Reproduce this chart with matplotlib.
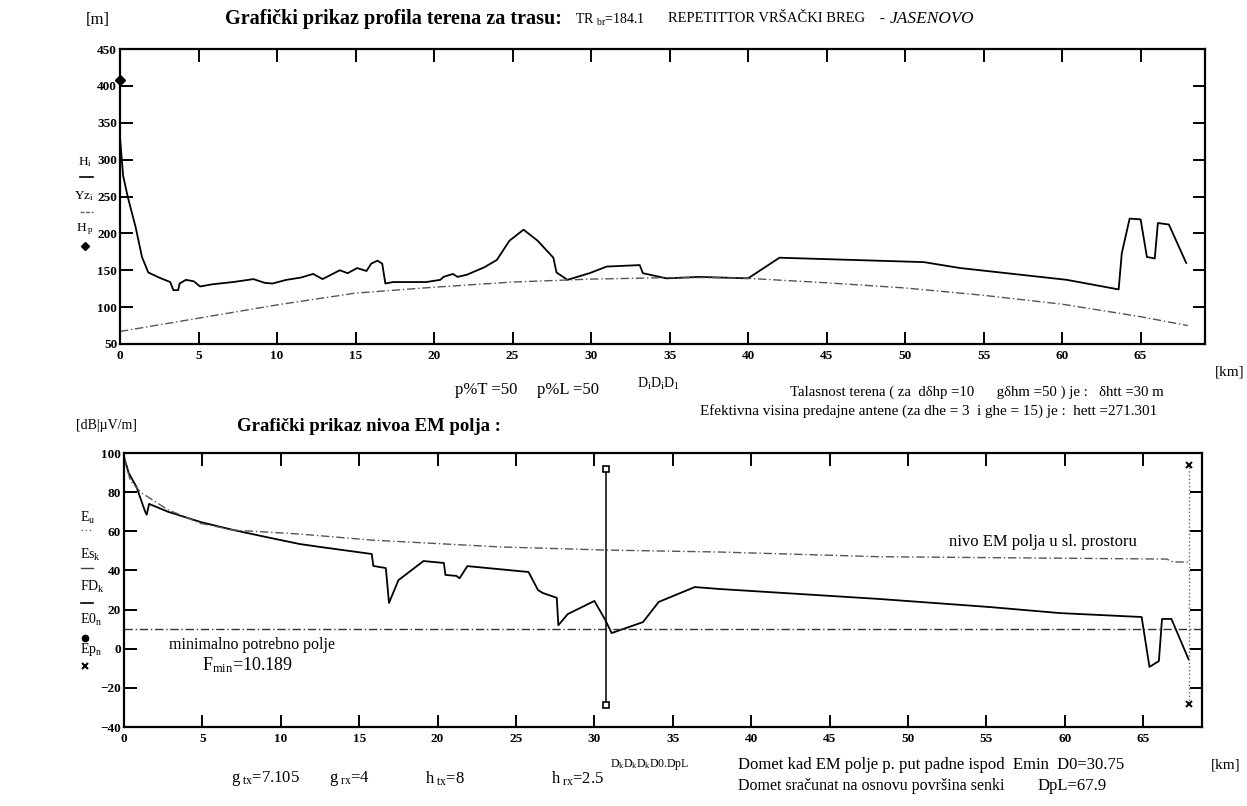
import matplotlib
matplotlib.use("Agg")
import matplotlib.pyplot as plt

plt.rcParams['font.family'] = ['Liberation Serif', 'DejaVu Serif']
plt.rcParams['mathtext.fontset'] = 'custom'
plt.rcParams['mathtext.rm'] = 'Liberation Serif'
plt.rcParams['mathtext.it'] = 'Liberation Serif:italic'
plt.rcParams['mathtext.bf'] = 'Liberation Serif:bold'

# ---------------- data: terrain profile ----------------
profile_km = [0.0, 0.2, 0.5, 1.0, 1.4, 1.8, 2.5, 3.2, 3.4, 3.7, 3.8, 4.2, 4.7, 5.1, 5.9,
              7.2, 8.5, 9.2, 9.7, 10.6, 11.5, 12.3, 12.9, 14.0, 14.5, 15.1, 15.7, 16.0,
              16.4, 16.7, 16.9, 17.4, 19.5, 20.4, 20.6, 21.2, 21.5, 22.1, 23.2, 24.0,
              24.8, 25.7, 26.6, 27.6, 27.8, 28.5, 29.9, 31.0, 33.1, 33.3, 34.8, 36.9,
              40.0, 42.0, 49.7, 51.2, 53.5, 60.3, 63.6, 63.8, 64.3, 65.0, 65.4, 65.9,
              66.1, 66.8, 67.9]
profile_h = [330, 278, 249, 208, 168, 147, 140, 134, 123, 123, 132, 137, 135, 128, 131,
             134, 138, 133, 132, 137, 140, 145, 138, 150, 146, 153, 149, 159,
             163, 159, 132, 134, 134, 137, 141, 145, 141, 144, 154, 164,
             190, 205, 190, 167, 147, 137, 146, 155, 157, 146, 139, 141,
             139, 167, 162, 161, 153, 137, 124, 173, 220, 219, 168, 166,
             214, 212, 160]

earth_km = [0, 5, 10, 15, 20, 25, 30, 35, 38, 40, 45, 50, 55, 60, 65, 68]
earth_h = [67, 85, 103, 119, 127, 134, 138, 140, 140, 139, 133, 126, 116, 104, 87, 75]

hp_km = [0.0]
hp_h = [408]

# ---------------- data: EM field ----------------
field_km = [0.0, 0.3, 0.8, 1.35, 1.45, 1.6, 2.8, 4.9, 7.0, 9.1, 11.2, 12.5, 15.8, 15.9,
            16.7, 16.9, 17.5, 19.1, 20.4, 20.5, 21.2, 21.4, 21.9, 25.8, 26.4, 26.7,
            27.6, 27.7, 28.3, 30.0, 30.7, 31.1, 33.1, 34.1, 36.4, 38.0, 48.2, 55.2,
            59.7, 64.9, 65.4, 66.0, 66.2, 66.8, 67.9]
field_es = [98, 89.8, 82.6, 70, 68.5, 74, 70, 64.7, 60.6, 57, 53.5, 52, 48.4, 42.3,
            41.2, 23.4, 35, 44.8, 43.8, 37.7, 37.2, 36, 42.2, 39.2, 30, 28.5,
            26, 12, 17.7, 24.4, 14.6, 8, 13.6, 23.9, 31.5, 30.5, 25.4, 21.3,
            18.2, 16.2, -9.3, -6.3, 15.2, 15.2, -5.5]

free_km = [0.0, 0.4, 1.05, 2.8, 4.9, 7.0, 11.2, 15.8, 24.0, 30.8, 38.0, 48.2, 66.5, 66.9, 68.0]
free_eu = [98, 86, 80, 71, 64, 60.6, 58.6, 55.5, 52, 50.4, 49.4, 47, 45.8, 44.3, 44.3]

fmin = 10.189
d0 = 30.75
d0_span = [-29, 92]
dpl = 67.9
dpl_span = [-28, 94]

top_xticks = list(range(0, 70, 5))
top_yticks = list(range(50, 451, 50))
bot_xticks = list(range(0, 70, 5))
bot_yticks = list(range(-40, 101, 20))

W, H = 1247, 806
fig = plt.figure(figsize=(W / 100, H / 100), dpi=100)
fig.patch.set_facecolor('white')


def P(x, y):
    return x / W, 1 - y / H


def T(x, y, s, **kw):
    kw.setdefault('fontsize', 11)
    kw.setdefault('va', 'center')
    fig.text(*P(x, y), s, **kw)


def style_axes(ax):
    for sp in ax.spines.values():
        sp.set_linewidth(1.6)
        sp.set_color('black')
    ax.tick_params(axis='both', which='major', direction='in', length=9, width=1.4,
                   top=True, right=True, labelsize=9.5, pad=4)
    for lab in ax.get_xticklabels() + ax.get_yticklabels():
        lab.set_fontweight('bold')


# ---------------- top axes ----------------
ax1 = fig.add_axes([120 / W, 1 - 344 / H, (1205 - 120) / W, (344 - 49) / H])
ax1.plot(profile_km, profile_h, color='black', lw=1.3)
ax1.plot(earth_km, earth_h, color='#555555', lw=1.0, ls=(0, (6, 2, 1, 2)))
ax1.plot(hp_km, hp_h, marker='D', color='black', ms=5, ls='none', clip_on=False)
ax1.set_xlim(0, 69.1)
ax1.set_ylim(50, 450)
ax1.set_xticks(top_xticks)
ax1.set_yticks(top_yticks)
style_axes(ax1)
ax1.tick_params(axis='y', pad=2)

# ---------------- bottom axes ----------------
ax2 = fig.add_axes([124 / W, 1 - 727 / H, (1202 - 124) / W, (727 - 453) / H])
ax2.plot(field_km, field_es, color='black', lw=1.3)
ax2.plot(free_km, free_eu, color='#555555', lw=1.0, ls=(0, (6, 2, 1, 2)))
ax2.axhline(fmin, color='#333333', lw=1.0, ls=(0, (6, 2, 1, 2)))
ax2.plot([d0, d0], d0_span, color='black', lw=1.1, marker='s', ms=4.5,
         markerfacecolor='white', markeredgewidth=1.2)
ax2.plot([dpl, dpl], dpl_span, color='#666666', lw=1.0, ls=':', marker='x', ms=5,
         markeredgecolor='black', markeredgewidth=1.4)
ax2.set_xlim(0, 68.75)
ax2.set_ylim(-40, 100)
ax2.set_xticks(bot_xticks)
ax2.set_yticks(bot_yticks)
style_axes(ax2)
ax2.tick_params(axis='y', pad=2)

# ---------------- texts top ----------------
T(86, 20, '[m]', fontsize=12)
T(225, 19, 'Grafički prikaz profila terena za trasu:', fontsize=14.5, fontweight='bold')
T(575, 20, r'TR $_{\rm br}$=184.1', fontsize=10)
T(668, 19, 'REPETITTOR VRŠAČKI BREG', fontsize=10.5)
T(879, 19, '-', fontsize=10.5)
T(890, 19, 'JASENOVO', fontsize=12.5, style='italic')

# left legend for top
T(78, 162, r'H$_{\rm i}$', fontsize=9.5)
fig.add_artist(plt.Line2D([80 / W, 93 / W], [1 - 177 / H, 1 - 177 / H], color='black', lw=1.2))
T(74, 196, r'Yz$_{\rm i}$', fontsize=9.5)
fig.add_artist(plt.Line2D([80 / W, 93 / W], [1 - 212 / H, 1 - 212 / H], color='#666666', lw=1.0,
                          ls=(0, (3, 1))))
T(76, 229, r'H$_{\rm \ p}$', fontsize=9.5)
fig.add_artist(plt.Line2D([85 / W], [1 - 246 / H], marker='D', color='black', ms=4.5))

T(1215, 372, '[km]', fontsize=11)
T(455, 390, 'p%T =50', fontsize=12)
T(537, 390, 'p%L =50', fontsize=12)
T(658, 384, r'D$_{\rm i}$D$_{\rm i}$D$_{\rm 1}$', fontsize=10, ha='center')
T(790, 392, 'Talasnost terena ( za  dδhp =10      gδhm =50 ) je :   δhtt =30 m', fontsize=10.6)
T(700, 411, 'Efektivna visina predajne antene (za dhe = 3  i ghe = 15) je :  hett =271.301',
  fontsize=10.9)

# ---------------- texts bottom ----------------
T(76, 426, '[dB|µV/m]', fontsize=10)
T(237, 427, 'Grafički prikaz nivoa EM polja :', fontsize=13.5, fontweight='bold')

T(80, 518, r'E$_{\rm u}$', fontsize=10)
fig.add_artist(plt.Line2D([81 / W, 93 / W], [1 - 530 / H, 1 - 530 / H], color='#666666', lw=1.0,
                          ls=(0, (1, 2))))
T(80, 555, r'Es$_{\rm k}$', fontsize=10)
fig.add_artist(plt.Line2D([81 / W, 93 / W], [1 - 568 / H, 1 - 568 / H], color='#444444', lw=1.0))
T(80, 587, r'FD$_{\rm k}$', fontsize=10)
fig.add_artist(plt.Line2D([81 / W, 93 / W], [1 - 603 / H, 1 - 603 / H], color='black', lw=1.2))
T(80, 620, r'E0$_{\rm n}$', fontsize=10)
fig.add_artist(plt.Line2D([85 / W], [1 - 638 / H], marker='o', color='black', ms=4.5))
T(80, 650, r'Ep$_{\rm n}$', fontsize=10)
fig.add_artist(plt.Line2D([85 / W], [1 - 666 / H], marker='x', color='black', ms=5, mew=1.5))

T(1043, 542, 'nivo EM polja u sl. prostoru', fontsize=12, ha='center')
T(252, 645, 'minimalno potrebno polje', fontsize=11.5, ha='center')
T(202, 665, r'F$_{\rm min}$=10.189', fontsize=13)

T(231, 779, r'g$_{\rm \ tx}$=7.105', fontsize=12)
T(329, 779, r'g$_{\rm \ rx}$=4', fontsize=12)
T(425, 779, r'h$_{\rm \ tx}$=8', fontsize=12)
T(551, 779, r'h$_{\rm \ rx}$=2.5', fontsize=12)
T(650, 764, r'D$_{\rm k}$D$_{\rm k}$D$_{\rm k}$D0.DpL', fontsize=8.5, ha='center')
T(738, 765, 'Domet kad EM polje p. put padne ispod  Emin  D0=30.75', fontsize=12)
T(738, 786, 'Domet sračunat na osnovu površina senki', fontsize=11.5)
T(1038, 786, 'DpL=67.9', fontsize=12)
T(1211, 765, '[km]', fontsize=11)

fig.savefig('out.png', dpi=100, facecolor='white')
